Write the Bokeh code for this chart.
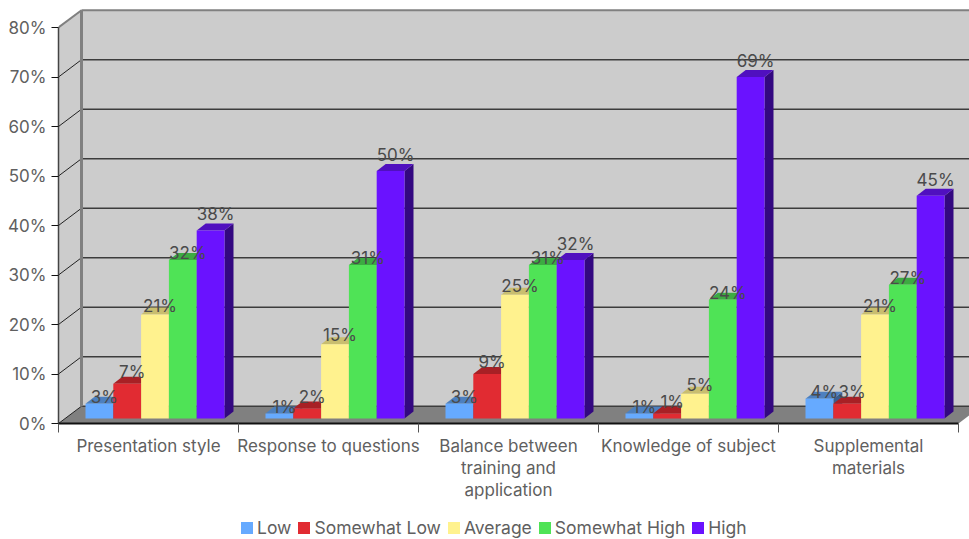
from bokeh.embed import file_html
from bokeh.resources import INLINE
from bokeh.layouts import column
from bokeh.plotting import figure
from bokeh.models import ColumnDataSource, FixedTicker, Legend, LegendItem, Range1d
from bokeh.core.properties import value as fixed

categories = ["Presentation style", "Response to questions",
              "Balance between\ntraining and\napplication",
              "Knowledge of subject", "Supplemental\nmaterials"]
series_names = ["Low", "Somewhat Low", "Average", "Somewhat High", "High"]
low = [3, 1, 3, 1, 4]
somewhat_low = [7, 2, 9, 1, 3]
average = [21, 15, 25, 5, 21]
somewhat_high = [32, 31, 31, 24, 27]
high = [38, 50, 32, 69, 45]
y_ticks = [0, 10, 20, 30, 40, 50, 60, 70, 80]

FONT = "Inter"
TEXT = "#606060"
PX_X = 1 / 180          # one pixel in category units
PX_Y = 1 / 4.95         # one pixel in percent units
WALL_DX, WALL_DY = 23 * PX_X, 17.3 * PX_Y
BAR_DX, BAR_DY = 9 * PX_X, 7 * PX_Y
BASE_X, BASE_Y = 27 * PX_X, 5 * PX_Y
BAR_W = 27.8 * PX_X

palette = [
    ("#66AAFF", "#4D80BF", "#3A5F8F"),
    ("#E12B32", "#A82025", "#7A171B"),
    ("#FFF28E", "#C9BE6F", "#8F8850"),
    ("#4FE356", "#3CAB41", "#2A7A2E"),
    ("#6A12FF", "#5010BF", "#330880"),
]
label_lift = [7, 12, 9, 7, 16]
series = [low, somewhat_low, average, somewhat_high, high]

n = len(categories)
p = figure(width=969, height=513, output_backend="svg", toolbar_location=None,
           x_range=Range1d(0, 911 * PX_X), y_range=Range1d(0, 423 * PX_Y),
           min_border_left=58, min_border_right=0, min_border_top=0, min_border_bottom=90,
           outline_line_color=None, background_fill_color="white", border_fill_color="white")
p.grid.visible = False

# walls and floor of the 3D box
top = y_ticks[-1]
p.patch([0, WALL_DX, WALL_DX, 0], [0, WALL_DY, top + WALL_DY, top], fill_color="#CCCCCC", line_color=None)
p.patch([WALL_DX, n + WALL_DX, n + WALL_DX, WALL_DX], [WALL_DY, WALL_DY, top + WALL_DY, top + WALL_DY],
        fill_color="#CCCCCC", line_color=None)
p.patch([0, WALL_DX, n + WALL_DX, n], [0, WALL_DY, WALL_DY, 0], fill_color="#808080", line_color=None)

# gridlines run along the side wall and the back wall
inner = y_ticks[:-1]
p.segment([0] * len(inner), inner, [WALL_DX] * len(inner), [t + WALL_DY for t in inner],
          line_color="#222222", line_width=1)
p.segment([WALL_DX] * len(inner), [t + WALL_DY for t in inner], [n + WALL_DX] * len(inner),
          [t + WALL_DY for t in inner], line_color="#3C3C3C", line_width=1.5)
p.segment([0, WALL_DX], [top, top + WALL_DY], [WALL_DX, n + WALL_DX], [top + WALL_DY, top + WALL_DY],
          line_color="#808080", line_width=2)
p.segment([WALL_DX], [WALL_DY], [WALL_DX], [top + WALL_DY], line_color="#808080", line_width=3)

# extruded bars: side face, top face, then the front
for s, (vals, (face, top_col, side_col)) in enumerate(zip(series, palette)):
    left = [c + BASE_X + s * BAR_W for c in range(n)]
    right = [l + BAR_W for l in left]
    tops = [BASE_Y + v for v in vals]
    p.patches([[r, r + BAR_DX, r + BAR_DX, r] for r in right],
              [[BASE_Y, BASE_Y + BAR_DY, t + BAR_DY, t] for t in tops],
              fill_color=side_col, line_color=None)
    p.patches([[l, l + BAR_DX, r + BAR_DX, r] for l, r in zip(left, right)],
              [[t, t + BAR_DY, t + BAR_DY, t] for t in tops],
              fill_color=top_col, line_color=None)
    p.quad(left=left, right=right, bottom=BASE_Y, top=tops, fill_color=face, line_color=None)

# value labels sit above everything
for s, vals in enumerate(series):
    src = ColumnDataSource(dict(
        x=[c + BASE_X + (s + 0.5) * BAR_W for c in range(n)],
        y=[BASE_Y + v for v in vals],
        t=[f"{v}%" for v in vals]))
    p.text("x", "y", text="t", source=src, text_align="center", text_baseline="alphabetic",
           x_offset=5, y_offset=-label_lift[s], text_font=fixed(FONT), text_font_size="17px",
           text_color="#4a4a4a")

# axes
yax = p.yaxis[0]
yax.ticker = FixedTicker(ticks=y_ticks)
yax.major_label_overrides = {t: f"{t}%" for t in y_ticks}
yax.major_label_text_font = FONT
yax.major_label_text_font_size = "17px"
yax.major_label_text_color = TEXT
yax.major_tick_in = 0
yax.major_tick_out = 7
yax.minor_tick_line_color = None
yax.major_label_standoff = 5
yax.axis_line_color = "#444444"
yax.axis_line_width = 1.5
yax.major_tick_line_color = "#111111"
yax.bounds = (0, top)

xax = p.xaxis[0]
xax.ticker = FixedTicker(ticks=[c + 0.5 for c in range(n)], minor_ticks=list(range(n + 1)))
xax.major_label_overrides = {c + 0.5: name for c, name in enumerate(categories)}
xax.major_label_text_font = FONT
xax.major_label_text_font_size = "17px"
xax.major_label_text_line_height = 1.1
xax.major_label_text_color = TEXT
xax.major_tick_line_color = None
xax.minor_tick_in = 0
xax.minor_tick_out = 9
xax.minor_tick_line_color = "#555555"
xax.major_label_standoff = 3
xax.axis_line_color = "#111111"
xax.axis_line_width = 2
xax.bounds = (0, n)

# the legend strip under the chart; its zero-sized quads only carry the swatch colours
strip = figure(width=969, height=26, output_backend="svg", toolbar_location=None,
               x_axis_type=None, y_axis_type=None,
               x_range=Range1d(0, 1), y_range=Range1d(0, 1),
               min_border_left=0, min_border_right=0, min_border_top=0, min_border_bottom=0,
               outline_line_color=None, background_fill_color="white", border_fill_color="white")
strip.grid.visible = False
swatches = [strip.quad(left=[0], right=[0], bottom=[0], top=[0], fill_color=pal[0], line_color=None)
            for pal in palette]
legend = Legend(items=[LegendItem(label=name, renderers=[r]) for name, r in zip(series_names, swatches)],
                orientation="horizontal", location=(181, 1), glyph_width=15, glyph_height=15,
                label_standoff=3, spacing=5, padding=0, margin=0, border_line_color=None,
                background_fill_alpha=0, label_text_font=FONT, label_text_font_size="17.5px",
                label_text_color=TEXT, label_height=16)
strip.add_layout(legend, "center")

page = column(p, strip, spacing=0)
open("out.html", "w").write(file_html(page, INLINE))
